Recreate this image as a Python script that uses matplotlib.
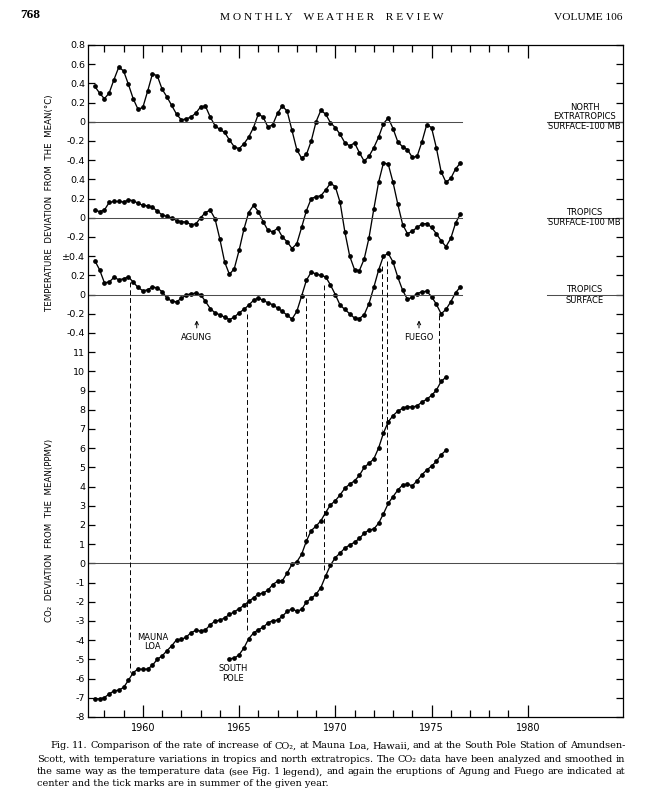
import numpy as np
import matplotlib
matplotlib.use("Agg")
import matplotlib.pyplot as plt

# seasonal (quarterly) values, first point in mid 1957
start_year = 1957.5
north_extra = [0.37, 0.30, 0.24, 0.30, 0.44, 0.57, 0.53, 0.39, 0.24, 0.13,
               0.15, 0.32, 0.50, 0.48, 0.34, 0.26, 0.17, 0.08, 0.02, 0.03,
               0.05, 0.09, 0.155, 0.165, 0.05, -0.04, -0.08, -0.11, -0.19, -0.26,
               -0.28, -0.23, -0.16, -0.06, 0.08, 0.05, -0.055, -0.03, 0.09, 0.165,
               0.11, -0.09, -0.29, -0.38, -0.34, -0.20, 0.0, 0.12, 0.08, -0.01,
               -0.06, -0.13, -0.22, -0.25, -0.22, -0.32, -0.41, -0.36, -0.27, -0.16,
               -0.02, 0.04, -0.07, -0.21, -0.26, -0.29, -0.37, -0.36, -0.21, -0.03,
               -0.06, -0.27, -0.52, -0.63, -0.59, -0.49, -0.43]
tropics_100mb = [0.08, 0.065, 0.08, 0.16, 0.17, 0.17, 0.165, 0.185, 0.18, 0.15,
                 0.13, 0.125, 0.11, 0.07, 0.03, 0.015, 0.0, -0.03, -0.04, -0.045,
                 -0.07, -0.065, 0.0, 0.055, 0.08, -0.01, -0.22, -0.46, -0.59, -0.53,
                 -0.34, -0.12, 0.055, 0.13, 0.065, -0.04, -0.13, -0.145, -0.11, -0.2,
                 -0.25, -0.32, -0.27, -0.1, 0.075, 0.2, 0.22, 0.23, 0.29, 0.36,
                 0.325, 0.16, -0.15, -0.40, -0.54, -0.55, -0.43, -0.21, 0.09, 0.37,
                 0.57, 0.56, 0.37, 0.14, -0.07, -0.165, -0.14, -0.10, -0.065, -0.06,
                 -0.10, -0.165, -0.24, -0.30, -0.215, -0.055, 0.04]
tropics_surface = [0.355, 0.26, 0.125, 0.13, 0.18, 0.155, 0.165, 0.185, 0.13, 0.075,
                   0.04, 0.05, 0.08, 0.07, 0.03, -0.035, -0.07, -0.075, -0.04, -0.005,
                   0.01, 0.015, 0.0, -0.07, -0.145, -0.19, -0.21, -0.235, -0.26, -0.235,
                   -0.19, -0.155, -0.11, -0.06, -0.035, -0.06, -0.085, -0.105, -0.14, -0.175,
                   -0.215, -0.255, -0.175, -0.015, 0.15, 0.235, 0.215, 0.2, 0.185, 0.1,
                   0.0, -0.11, -0.155, -0.2, -0.245, -0.25, -0.21, -0.095, 0.075, 0.255,
                   0.40, 0.43, 0.34, 0.18, 0.045, -0.05, -0.025, 0.01, 0.03, 0.035,
                   -0.02, -0.10, -0.2, -0.155, -0.075, 0.02, 0.08]
mauna_loa = [-7.04, -7.06, -6.99, -6.8, -6.64, -6.6, -6.46, -6.09, -5.69, -5.5,
             -5.52, -5.5, -5.31, -4.99, -4.82, -4.55, -4.29, -3.98, -3.96, -3.84,
             -3.61, -3.49, -3.52, -3.47, -3.2, -3.0, -2.96, -2.84, -2.66, -2.52,
             -2.36, -2.19, -1.98, -1.79, -1.61, -1.54, -1.4, -1.1, -0.93, -0.9,
             -0.5, -0.05, 0.08, 0.47, 1.17, 1.71, 1.94, 2.22, 2.65, 3.05,
             3.26, 3.57, 3.92, 4.13, 4.3, 4.58, 5.0, 5.21, 5.44, 6.01,
             6.78, 7.37, 7.7, 7.93, 8.08, 8.17, 8.14, 8.21, 8.4, 8.55,
             8.75, 9.02, 9.48, 9.7]
south_pole_start = 1964.5
south_pole = [-4.96, -4.94, -4.76, -4.41, -3.92, -3.63, -3.45, -3.33, -3.1, -2.98,
              -2.96, -2.75, -2.5, -2.36, -2.49, -2.4, -2.01, -1.82, -1.61, -1.26,
              -0.65, -0.09, 0.3, 0.54, 0.8, 0.96, 1.1, 1.3, 1.57, 1.74,
              1.79, 2.09, 2.58, 3.12, 3.48, 3.82, 4.09, 4.13, 4.04, 4.3,
              4.62, 4.86, 5.07, 5.31, 5.66, 5.89]

# vertical dashed connectors: year, top (panel units), bottom (panel units)
dash_years = [1959.31, 1965.43, 1968.48, 1969.43, 1972.45, 1972.68, 1975.41]
dash_tops = [14.65, 13.0, 13.8, 14.5, 15.5, 15.75, 12.95]
dash_bottoms = [-5.65, -3.65, 0.9, -0.4, 6.95, 3.2, 9.55]

# each temperature curve sits on its own baseline; 0.2 C per tick
north_base, trop100_base, tropsfc_base = 23, 18, 14
temp_scale = 0.2

left_labels = (["0.8", "0.6", "0.4", "0.2", "0", "-0.2", "-0.4",
                "0.4", "0.2", "0", "-0.2", "\u00b10.4", "0.2", "0", "-0.2", "-0.4"]
               + [str(v) for v in range(11, -9, -1)])
left_ticks = list(range(27, -9, -1))

caption = [
    "Fig. 11. Comparison of the rate of increase of CO\u2082, at Mauna Loa, Hawaii, and at the South Pole Station of Amundsen-",
    "Scott, with temperature variations in tropics and north extratropics. The CO\u2082 data have been analyzed and smoothed in",
    "the same way as the temperature data (see Fig. 1 legend), and again the eruptions of Agung and Fuego are indicated at",
    "center and the tick marks are in summer of the given year.",
]

fig = plt.figure(figsize=(6.62, 7.99), dpi=100)
ax = fig.add_axes([88 / 662, 1 - 717 / 799, 535 / 662, 672 / 799])
ax.set_xlim(1957.15, 1984.95)
ax.set_ylim(-8, 27)

t = start_year + 0.25 * np.arange(len(north_extra))
t_ml = start_year + 0.25 * np.arange(len(mauna_loa))
t_sp = south_pole_start + 0.25 * np.arange(len(south_pole))

line_kw = dict(color="black", lw=0.95, marker="o", ms=2.4)
ax.plot(t, north_base + np.array(north_extra) / temp_scale, **line_kw)
ax.plot(t, trop100_base + np.array(tropics_100mb) / temp_scale, **line_kw)
ax.plot(t, tropsfc_base + np.array(tropics_surface) / temp_scale, **line_kw)
ax.plot(t_ml, mauna_loa, **line_kw)
ax.plot(t_sp, south_pole, **line_kw)

# zero lines
for base in (north_base, trop100_base, tropsfc_base):
    ax.plot([1957.15, 1976.6], [base, base], color="0.3", lw=0.75)
    ax.plot([1981.0, 1984.95], [base, base], color="0.3", lw=0.75)
ax.axhline(0, color="0.3", lw=0.75)

for x, y0, y1 in zip(dash_years, dash_tops, dash_bottoms):
    ax.plot([x, x], [y0, y1], color="black", lw=0.7, ls=(0, (5, 3)))

# series labels
lab_kw = dict(fontsize=6.0, ha="center", va="center", family="DejaVu Sans")
lx = 1982.95
ax.text(lx, north_base + 0.72, "NORTH", **lab_kw)
ax.text(lx, north_base + 0.27, "EXTRATROPICS", **lab_kw)
ax.text(lx, north_base - 0.27, "SURFACE-100 MB", **lab_kw)
ax.text(lx, trop100_base + 0.29, "TROPICS", **lab_kw)
ax.text(lx, trop100_base - 0.27, "SURFACE-100 MB", **lab_kw)
ax.text(lx, tropsfc_base + 0.29, "TROPICS", **lab_kw)
ax.text(lx, tropsfc_base - 0.31, "SURFACE", **lab_kw)

# eruptions
arrow = dict(arrowstyle="->", lw=0.7, color="black", mutation_scale=6)
ax.annotate("", xy=(1962.8, 12.8), xytext=(1962.8, 12.12), arrowprops=arrow)
ax.text(1962.8, 11.75, "AGUNG", **lab_kw)
ax.annotate("", xy=(1974.35, 12.8), xytext=(1974.35, 12.12), arrowprops=arrow)
ax.text(1974.35, 11.75, "FUEGO", **lab_kw)

ax.text(1960.5, -4.1, "MAUNA\nLOA", linespacing=1.05, **lab_kw)
ax.text(1964.67, -5.73, "SOUTH\nPOLE", linespacing=1.05, **lab_kw)

# axes and ticks
ax.set_yticks(left_ticks)
ax.set_yticklabels(left_labels, fontsize=6.8)
ax.set_xticks([1960, 1965, 1970, 1975, 1980])
ax.set_xticklabels(["1960", "1965", "1970", "1975", "1980"], fontsize=7)
ax.set_xticks(range(1958, 1981), minor=True)
ax.tick_params(axis="both", which="both", direction="in", top=True, right=True,
               width=0.9)
ax.tick_params(axis="x", which="major", length=9, pad=4)
ax.tick_params(axis="x", which="minor", length=5)
ax.tick_params(axis="y", length=5, pad=2)
for s in ax.spines.values():
    s.set_linewidth(0.9)

fig.text(50 / 662, 1 - 203 / 799, "TEMPERATURE  DEVIATION  FROM  THE  MEAN(\u00b0C)",
         rotation=90, fontsize=6.2, ha="center", va="center")
fig.text(50 / 662, 1 - 530 / 799, "CO\u2082  DEVIATION  FROM  THE  MEAN(PPMV)",
         rotation=90, fontsize=6.2, ha="center", va="center")

# page header
serif = ["Liberation Serif", "DejaVu Serif"]
fig.text(20 / 662, 1 - 15 / 799, "768", family=serif, fontsize=9.5,
         weight="bold", va="center")
fig.text(332 / 662, 1 - 17 / 799, "M O N T H L Y    W E A T H E R    R E V I E W",
         family=serif, fontsize=8.2, ha="center", va="center")
fig.text(622 / 662, 1 - 17 / 799, "VOLUME 106", family=serif, fontsize=8.2,
         ha="right", va="center")

# caption, justified between the margins like the printed page
cap_font = dict(family="DejaVu Serif", fontsize=7.0, va="center")
renderer = fig.canvas.get_renderer()
cap_y = [746, 759, 772, 784]
cap_x = [50, 37, 37, 37]
cap_right = 625
for k, (line, yy, xx) in enumerate(zip(caption, cap_y, cap_x)):
    if k == len(caption) - 1:
        fig.text(xx / 662, 1 - yy / 799, line, **cap_font)
        continue
    words = line.split(" ")
    items = [fig.text(0, 1 - yy / 799, w, **cap_font) for w in words]
    widths = [it.get_window_extent(renderer).width for it in items]
    gap = (cap_right - xx - sum(widths)) / (len(words) - 1)
    pos = xx
    for it, w in zip(items, widths):
        it.set_x(pos / 662)
        pos += w + gap

fig.savefig("out.png", dpi=100)
